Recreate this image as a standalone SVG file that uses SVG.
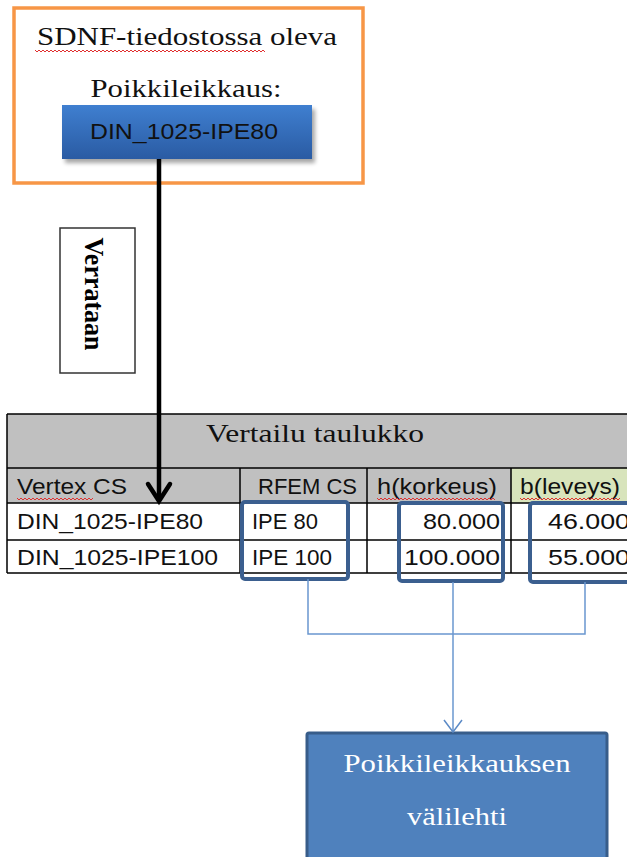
<svg xmlns="http://www.w3.org/2000/svg" width="627" height="857" viewBox="0 0 627 857">
<defs>
<linearGradient id="gBlue" x1="0" y1="0" x2="0" y2="1">
<stop offset="0" stop-color="#3f7fd0"/>
<stop offset="1" stop-color="#2a5ba3"/>
</linearGradient>
<filter id="shadow" x="-10%" y="-20%" width="130%" height="160%">
<feGaussianBlur stdDeviation="2"/>
</filter>
<marker id="mBlack" markerUnits="userSpaceOnUse" markerWidth="30" markerHeight="30" refX="0" refY="0" orient="auto" overflow="visible">
<path d="M-17,-11 L0,0 L-17,11" fill="none" stroke="#000" stroke-width="4.5" stroke-linecap="round" stroke-linejoin="miter"/>
</marker>
<marker id="mBlue" markerUnits="userSpaceOnUse" markerWidth="30" markerHeight="30" refX="0" refY="0" orient="auto" overflow="visible">
<path d="M-12,-9 L0,0 L-12,9" fill="none" stroke="#5b8ac6" stroke-width="1.5"/>
</marker>
</defs>
<style>
.serif{font-family:"Liberation Serif","Times New Roman",serif;}
.sans{font-family:"Liberation Sans",Arial,sans-serif;font-size:22px;fill:#111;}
.grid{stroke:#000;stroke-width:1.5;fill:none;}
.hl{fill:none;stroke:#3b5f8f;stroke-width:4;}
.conn{fill:none;stroke:#6a97cf;stroke-width:1.5;}
.squig{fill:none;stroke:#e03030;stroke-width:1;}
</style>

<g id="source">
<rect x="14" y="8" width="349" height="175" fill="#fff" stroke="#f79646" stroke-width="3.5"/>
<text class="serif" x="187" y="45" font-size="25" text-anchor="middle" textLength="300" lengthAdjust="spacingAndGlyphs" fill="#111">SDNF-tiedostossa oleva</text>
<polyline class="squig" points="35,50 37,52 39,50 41,52 43,50 45,52 47,50 49,52 51,50 53,52 55,50 57,52 59,50 61,52 63,50 65,52 67,50 69,52 71,50 73,52 75,50 77,52 79,50 81,52 83,50 85,52 87,50 89,52 91,50 93,52 95,50 97,52 99,50 101,52 103,50 105,52 107,50 109,52 111,50 113,52 115,50 117,52 119,50 121,52 123,50 125,52 127,50 129,52 131,50 133,52 135,50 137,52 139,50 141,52 143,50 145,52 147,50 149,52 151,50 153,52 155,50 157,52 159,50 161,52 163,50 165,52 167,50 169,52 171,50 173,52 175,50 177,52 179,50 181,52 183,50 185,52 187,50 189,52 191,50 193,52 195,50 197,52 199,50 201,52 203,50 205,52 207,50 209,52 211,50 213,52 215,50 217,52 219,50 221,52 223,50 225,52 227,50 229,52 231,50 233,52 235,50 237,52 239,50 241,52 243,50 245,52 247,50 249,52 251,50 253,52 255,50 257,52 259,50 261,52 263,50 265,52"/>
<text class="serif" x="186" y="97" font-size="26" text-anchor="middle" textLength="191" lengthAdjust="spacingAndGlyphs" fill="#111">Poikkileikkaus:</text>
<rect x="65" y="109" width="250" height="54" fill="#000" opacity="0.35" filter="url(#shadow)"/>
<rect x="62" y="105" width="250" height="54" fill="url(#gBlue)"/>
<text class="sans" x="184" y="139" text-anchor="middle" textLength="188" lengthAdjust="spacingAndGlyphs">DIN_1025-IPE80</text>
</g>

<g id="verrataan">
<rect x="60" y="228" width="75" height="145" fill="#fff" stroke="#333" stroke-width="1.5"/>
<text class="serif" transform="translate(85,294) rotate(90)" x="0" y="0" font-size="27" font-weight="bold" text-anchor="middle" textLength="113" lengthAdjust="spacingAndGlyphs" fill="#000">Verrataan</text>
</g>

<g id="table">
<rect x="7" y="414" width="625" height="54" fill="#c0c0c0"/>
<rect x="7" y="468" width="504" height="35" fill="#c0c0c0"/>
<rect x="511" y="468" width="121" height="35" fill="#d8e4bc"/>
<rect x="7" y="503" width="625" height="70" fill="#fff"/>
<path class="grid" d="M7,414 H632 M7,468 H632 M7,503 H632 M7,540 H632 M7,573 H632 M7,414 V573 M240,468 V573 M367,468 V573 M511,468 V573"/>
<text class="serif" x="315" y="442" font-size="25" text-anchor="middle" textLength="218" lengthAdjust="spacingAndGlyphs" fill="#111">Vertailu taulukko</text>
<text class="sans" x="17" y="494" textLength="110" lengthAdjust="spacingAndGlyphs">Vertex CS</text>
<text class="sans" x="258" y="494" textLength="99" lengthAdjust="spacingAndGlyphs">RFEM CS</text>
<text class="sans" x="377" y="494" textLength="120" lengthAdjust="spacingAndGlyphs">h(korkeus)</text>
<text class="sans" x="520" y="494" textLength="100" lengthAdjust="spacingAndGlyphs">b(leveys)</text>
<polyline class="squig" points="17,498 19,500 21,498 23,500 25,498 27,500 29,498 31,500 33,498 35,500 37,498 39,500 41,498 43,500 45,498 47,500 49,498 51,500 53,498 55,500 57,498 59,500 61,498 63,500 65,498 67,500 69,498 71,500 73,498 75,500 77,498 79,500 81,498 83,500 85,498 87,500 89,498 91,500 93,498"/>
<polyline class="squig" points="377,498 379,500 381,498 383,500 385,498 387,500 389,498 391,500 393,498 395,500 397,498 399,500 401,498 403,500 405,498 407,500 409,498 411,500 413,498 415,500 417,498 419,500 421,498 423,500 425,498 427,500 429,498 431,500 433,498 435,500 437,498 439,500 441,498 443,500 445,498 447,500 449,498 451,500 453,498 455,500 457,498 459,500 461,498 463,500 465,498 467,500 469,498 471,500 473,498 475,500 477,498 479,500 481,498 483,500 485,498 487,500 489,498 491,500 493,498 495,500"/>
<polyline class="squig" points="520,498 522,500 524,498 526,500 528,498 530,500 532,498 534,500 536,498 538,500 540,498 542,500 544,498 546,500 548,498 550,500 552,498 554,500 556,498 558,500 560,498 562,500 564,498 566,500 568,498 570,500 572,498 574,500 576,498 578,500 580,498 582,500 584,498 586,500 588,498 590,500 592,498 594,500 596,498 598,500 600,498 602,500 604,498 606,500 608,498 610,500 612,498 614,500 616,498 618,500 620,498"/>
<text class="sans" x="17" y="529" textLength="186" lengthAdjust="spacingAndGlyphs">DIN_1025-IPE80</text>
<text class="sans" x="17" y="565" textLength="201" lengthAdjust="spacingAndGlyphs">DIN_1025-IPE100</text>
<text class="sans" x="252" y="529" textLength="66" lengthAdjust="spacingAndGlyphs">IPE 80</text>
<text class="sans" x="252" y="565" textLength="80" lengthAdjust="spacingAndGlyphs">IPE 100</text>
<text class="sans" x="500" y="529" text-anchor="end" textLength="77" lengthAdjust="spacingAndGlyphs">80.000</text>
<text class="sans" x="500" y="565" text-anchor="end" textLength="96" lengthAdjust="spacingAndGlyphs">100.000</text>
<text class="sans" x="548" y="529" textLength="82" lengthAdjust="spacingAndGlyphs">46.000</text>
<text class="sans" x="548" y="565" textLength="82" lengthAdjust="spacingAndGlyphs">55.000</text>
</g>

<g id="highlights">
<rect class="hl" x="242" y="502" width="106" height="77" rx="3"/>
<rect class="hl" x="399" y="503" width="104" height="78" rx="3"/>
<rect class="hl" x="530" y="503" width="110" height="79" rx="3"/>
</g>

<g id="target">
<rect x="307" y="733" width="300" height="140" fill="#4f81bd" stroke="#385d8a" stroke-width="3" rx="2"/>
<text class="serif" x="457" y="772" font-size="26" text-anchor="middle" textLength="227" lengthAdjust="spacingAndGlyphs" fill="#fff">Poikkileikkauksen</text>
<text class="serif" x="457" y="825" font-size="26" text-anchor="middle" textLength="100" lengthAdjust="spacingAndGlyphs" fill="#fff">välilehti</text>
</g>

<g id="connectors">
<line x1="159" y1="159" x2="159" y2="501" stroke="#000" stroke-width="4.5" marker-end="url(#mBlack)"/>
<polyline class="conn" points="308,579 308,634 585,634 585,582"/>
<line class="conn" x1="453" y1="582" x2="453" y2="732" marker-end="url(#mBlue)"/>
</g>
</svg>
